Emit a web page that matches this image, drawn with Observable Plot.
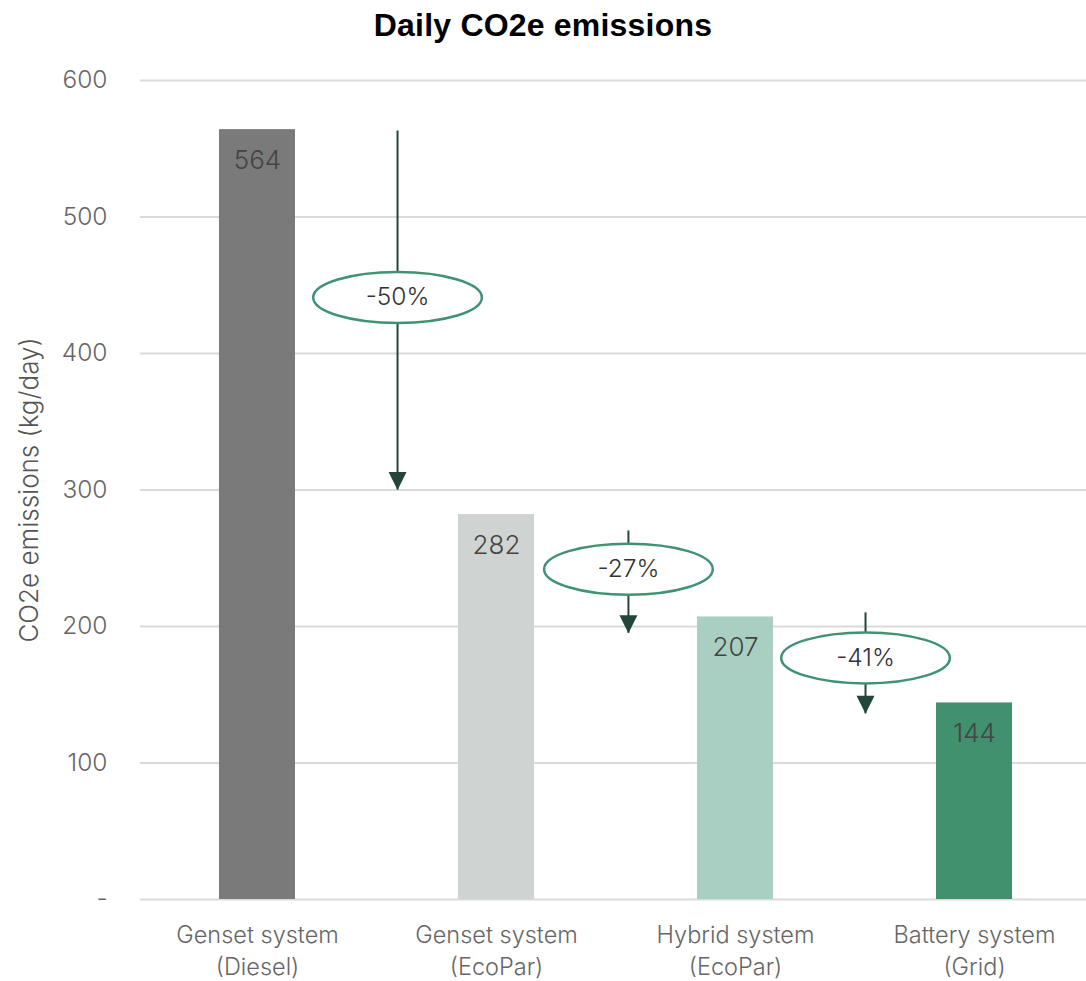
<!DOCTYPE html>
<html>
<head>
<meta charset="utf-8">
<script src="https://cdn.jsdelivr.net/npm/d3@7"></script>
<script src="https://cdn.jsdelivr.net/npm/@observablehq/plot@0.6"></script>
<style>
  body { margin: 0; background: #fff; }
  #title { height: 50px; line-height: 50px; text-align: center; font-family: "Liberation Sans", Arial, sans-serif; font-weight: bold; font-size: 32px; color: #000; letter-spacing: 0.2px; }
</style>
</head>
<body>
<div id="title">Daily CO2e emissions</div>
<div id="chart"></div>
<script>
// ---- data ----
const categories = ["Genset system\n(Diesel)", "Genset system\n(EcoPar)", "Hybrid system\n(EcoPar)", "Battery system\n(Grid)"];
const values = [564, 282, 207, 144];
const barColors = ["#7a7a7a", "#cfd4d2", "#a9cfc2", "#41916e"];
const yTicks = [0, 100, 200, 300, 400, 500, 600];
const reductionLabels = ["-50%", "-27%", "-41%"];
const reductionX = [0.586, 1.552, 2.544];       // position between bars (x units)
const arrowTop = [563, 270, 210];
const arrowTip = [300, 195, 136];
const labelY = [441, 242, 177];

const bars = categories.map((c, i) => ({i, c, v: values[i], fill: barColors[i]}));
const arrows = reductionLabels.map((t, i) => ({t, x: reductionX[i], top: arrowTop[i], tip: arrowTip[i], ly: labelY[i]}));

const ellipse = {
  draw(ctx, size) {
    const r = Math.sqrt(size / Math.PI);
    const ry = r, rx = r * 86 / 26, k = 0.5523;
    ctx.moveTo(rx, 0);
    ctx.bezierCurveTo(rx, k * ry, k * rx, ry, 0, ry);
    ctx.bezierCurveTo(-k * rx, ry, -rx, k * ry, -rx, 0);
    ctx.bezierCurveTo(-rx, -k * ry, -k * rx, -ry, 0, -ry);
    ctx.bezierCurveTo(k * rx, -ry, rx, -k * ry, rx, 0);
    ctx.closePath();
  }
};
const triDown = {
  draw(ctx, size) {
    ctx.moveTo(-9, -18);
    ctx.lineTo(9, -18);
    ctx.lineTo(0, 0);
    ctx.closePath();
  }
};

const font = "Inter, 'Liberation Sans', sans-serif";
const hw = 0.159;

const chart = Plot.plot({
  width: 1086,
  height: 931,
  marginTop: 30,
  marginBottom: 82,
  marginLeft: 140,
  marginRight: 0,
  style: {fontFamily: font, background: "#fff", overflow: "visible"},
  x: {domain: [-0.4895, 3.4686], axis: null},
  y: {domain: [0, 600], axis: null},
  marks: [
    Plot.ruleY(yTicks, {stroke: "#dadada", strokeWidth: 2}),
    Plot.text(yTicks, {frameAnchor: "left", y: d => d, text: d => d === 0 ? "-" : String(d), textAnchor: "end", dx: -33, fontSize: 24.5, fill: "#666", fontWeight: 300}),
    Plot.text(["CO2e emissions (kg/day)"], {frameAnchor: "left", text: d => d, rotate: -90, dx: -111, textAnchor: "middle", fontSize: 26, fill: "#555", fontWeight: 300}),
    Plot.rect(bars, {x1: d => d.i - hw, x2: d => d.i + hw, y1: 0, y2: "v", fill: "fill"}),
    Plot.text(bars, {x: "i", y: "v", text: d => String(d.v), dy: 31, fontSize: 26, fill: "#444", fontWeight: 300}),
    Plot.text(bars, {x: "i", frameAnchor: "bottom", text: "c", dy: 49, lineAnchor: "middle", lineHeight: 1.36, fontSize: 23.5, fill: "#666", fontWeight: 300}),
    Plot.ruleX(arrows, {x: "x", y1: "top", y2: "tip", stroke: "#24463a", strokeWidth: 2}),
    Plot.dot(arrows, {x: "x", y: "tip", symbol: triDown, r: 10, fill: "#24463a", stroke: "none"}),
    Plot.dot(arrows, {x: "x", y: "ly", symbol: ellipse, r: 25.5, fill: "#fff", stroke: "#3f9272", strokeWidth: 2.5}),
    Plot.text(arrows, {x: "x", y: "ly", text: "t", fontSize: 24.5, fill: "#333", fontWeight: 300})
  ]
});
document.getElementById("chart").appendChild(chart);
</script>
</body>
</html>
